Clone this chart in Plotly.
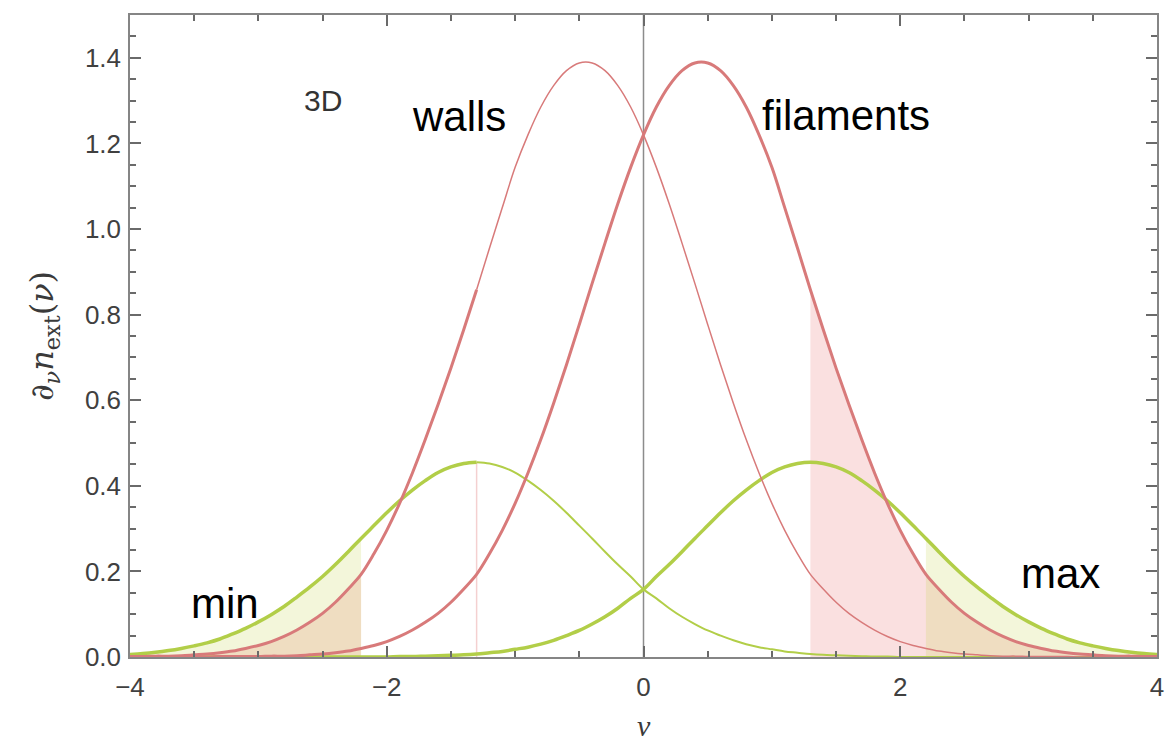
import numpy as np
import plotly.graph_objects as go

# Sampling grid of the threshold nu, step 0.1 from -4 to 4
nu = np.round(np.linspace(-4.0, 4.0, 81), 1)

walls = [
    0.001, 0.001, 0.002, 0.002, 0.003, 0.005, 0.007, 0.010, 0.014, 0.020,
    0.027, 0.036, 0.048, 0.063, 0.081, 0.102, 0.128, 0.159, 0.193, 0.241,
    0.296, 0.359, 0.430, 0.508, 0.590, 0.675, 0.765, 0.858, 0.955, 1.050,
    1.144, 1.220, 1.285, 1.335, 1.370, 1.388, 1.388, 1.370, 1.335, 1.285,
    1.220, 1.144, 1.059, 0.967, 0.873, 0.777, 0.683, 0.593, 0.508, 0.430,
    0.359, 0.296, 0.241, 0.193, 0.159, 0.128, 0.102, 0.081, 0.063, 0.048,
    0.036, 0.027, 0.020, 0.014, 0.010, 0.007, 0.005, 0.003, 0.002, 0.002,
    0.001, 0.001, 0.001, 0.001, 0.000, 0.000, 0.000, 0.000, 0.000, 0.000,
    0.000]

filaments = [
    0.000, 0.000, 0.000, 0.000, 0.000, 0.000, 0.000, 0.001, 0.001, 0.001,
    0.001, 0.002, 0.002, 0.003, 0.005, 0.007, 0.010, 0.014, 0.020, 0.027,
    0.036, 0.048, 0.063, 0.081, 0.102, 0.128, 0.159, 0.193, 0.241, 0.296,
    0.359, 0.430, 0.508, 0.593, 0.683, 0.777, 0.873, 0.967, 1.059, 1.144,
    1.220, 1.285, 1.335, 1.370, 1.388, 1.388, 1.370, 1.335, 1.285, 1.220,
    1.144, 1.050, 0.955, 0.858, 0.765, 0.675, 0.590, 0.508, 0.430, 0.359,
    0.296, 0.241, 0.193, 0.159, 0.128, 0.102, 0.081, 0.063, 0.048, 0.036,
    0.027, 0.020, 0.014, 0.010, 0.007, 0.005, 0.003, 0.002, 0.002, 0.001,
    0.001]

minima = [
    0.006, 0.008, 0.011, 0.015, 0.020, 0.026, 0.033, 0.042, 0.054, 0.067,
    0.082, 0.099, 0.118, 0.140, 0.163, 0.188, 0.216, 0.246, 0.277, 0.307,
    0.337, 0.365, 0.390, 0.412, 0.431, 0.444, 0.452, 0.455, 0.452, 0.444,
    0.431, 0.412, 0.390, 0.365, 0.337, 0.307, 0.277, 0.246, 0.216, 0.188,
    0.158, 0.137, 0.114, 0.094, 0.077, 0.062, 0.050, 0.039, 0.030, 0.023,
    0.018, 0.013, 0.010, 0.007, 0.005, 0.004, 0.003, 0.002, 0.001, 0.001,
    0.000, 0.000, 0.000, 0.000, 0.000, 0.000, 0.000, 0.000, 0.000, 0.000,
    0.000, 0.000, 0.000, 0.000, 0.000, 0.000, 0.000, 0.000, 0.000, 0.000,
    0.000]

maxima = [
    0.000, 0.000, 0.000, 0.000, 0.000, 0.000, 0.000, 0.000, 0.000, 0.000,
    0.000, 0.000, 0.000, 0.000, 0.000, 0.000, 0.000, 0.000, 0.000, 0.000,
    0.000, 0.001, 0.001, 0.002, 0.003, 0.004, 0.005, 0.007, 0.010, 0.013,
    0.018, 0.023, 0.030, 0.039, 0.050, 0.062, 0.077, 0.094, 0.114, 0.137,
    0.158, 0.188, 0.216, 0.246, 0.277, 0.307, 0.337, 0.365, 0.390, 0.412,
    0.431, 0.444, 0.452, 0.455, 0.452, 0.444, 0.431, 0.412, 0.390, 0.365,
    0.337, 0.307, 0.277, 0.246, 0.216, 0.188, 0.163, 0.140, 0.118, 0.099,
    0.082, 0.067, 0.054, 0.042, 0.033, 0.026, 0.020, 0.015, 0.011, 0.008,
    0.006]

# Thresholds bounding the shaded tails
nu_inner = 1.3
nu_outer = 2.2

x_ticks = [-4, -2, 0, 2, 4]
y_ticks = [0.0, 0.2, 0.4, 0.6, 0.8, 1.0, 1.2, 1.4]

RED = "rgb(216,122,122)"
GREEN = "rgb(178,206,72)"
PINK_FILL = "rgba(230,110,110,0.21)"
GREEN_FILL = "rgba(190,208,60,0.19)"

x = np.asarray(nu)
curves = {k: np.array(v) for k, v in
          dict(walls=walls, filaments=filaments, minima=minima, maxima=maxima).items()}

fig = go.Figure()


def add_fill(mask, y, color):
    fig.add_trace(go.Scatter(x=x[mask], y=y[mask], mode="lines", fill="tozeroy",
                             fillcolor=color, line=dict(width=0, shape="spline"),
                             hoverinfo="skip", showlegend=False))


def add_line(mask, y, color, width):
    fig.add_trace(go.Scatter(x=x[mask], y=y[mask], mode="lines",
                             line=dict(color=color, width=width, shape="spline"),
                             hoverinfo="skip", showlegend=False))


left_tail = x <= -nu_outer
right_tail = x >= nu_outer
right_pink = x >= nu_inner
everything = np.ones_like(x, dtype=bool)

# shaded tails: pink under the red curves, green under the extrema curves
add_fill(left_tail, curves["walls"], PINK_FILL)
add_fill(right_pink, curves["filaments"], PINK_FILL)
add_fill(left_tail, curves["minima"], GREEN_FILL)
add_fill(right_tail, curves["maxima"], GREEN_FILL)

# faint edge of the inner band on the walls side
edge = np.isclose(x, -nu_inner)
fig.add_trace(go.Scatter(x=[x[edge][0], x[edge][0]], y=[0, curves["minima"][edge][0]],
                         mode="lines", line=dict(color="rgba(235,170,170,0.55)", width=1.5),
                         hoverinfo="skip", showlegend=False))

# curves
add_line(x >= -nu_inner, curves["minima"], GREEN, 2.0)
add_line(x <= -nu_inner, curves["minima"], GREEN, 3.5)
add_line(everything, curves["maxima"], GREEN, 3.5)
add_line(x >= -nu_inner, curves["walls"], RED, 1.5)
add_line(x <= -nu_inner, curves["walls"], RED, 3.0)
add_line(everything, curves["filaments"], RED, 3.0)

# vertical reference line at nu = 0
fig.add_shape(type="line", xref="x", yref="paper", x0=0, x1=0, y0=0, y1=1,
              line=dict(color="#8c8c8c", width=1.5), layer="below")

tick_font = dict(family="Liberation Sans, Arial, sans-serif", size=26, color="#404040")
label_font = dict(family="Liberation Sans, Arial, sans-serif", size=42, color="#000000")
axis_common = dict(showline=True, linecolor="#858585", linewidth=1.5, mirror="allticks",
                   ticks="inside", ticklen=11, tickwidth=1.5, tickcolor="#6a6a6a",
                   showgrid=False, zeroline=False, tickfont=tick_font)

fig.update_xaxes(range=[-4, 4], tickvals=x_ticks, ticklabelstandoff=6,
                 minor=dict(dtick=0.5, ticks="inside", ticklen=6, tickwidth=1.5,
                            tickcolor="#6a6a6a", showgrid=False),
                 **axis_common)
fig.update_yaxes(range=[0, 1.5], tickvals=y_ticks, tickformat=".1f", ticklabelstandoff=2,
                 minor=dict(dtick=0.05, ticks="inside", ticklen=6, tickwidth=1.5,
                            tickcolor="#6a6a6a", showgrid=False),
                 **axis_common)

annotations = [
    dict(text="3D", x=-2.50, y=1.300, font=dict(family=label_font["family"], size=30, color="#333333")),
    dict(text="walls", x=-1.44, y=1.262, font=label_font),
    dict(text="filaments", x=1.58, y=1.265, font=label_font),
    dict(text="min", x=-3.26, y=0.124, font=label_font),
    dict(text="max", x=3.25, y=0.194, font=label_font),
]
for a in annotations:
    fig.add_annotation(xref="x", yref="y", showarrow=False, xanchor="center",
                       yanchor="middle", **a)

# axis titles
fig.add_annotation(text="∂<sub><i>ν</i></sub><i>n</i><sub>ext</sub>(<i>ν</i>)",
                   xref="paper", yref="paper", x=0, y=0.5, xshift=-86, textangle=-90,
                   showarrow=False, xanchor="center", yanchor="middle",
                   font=dict(family="DejaVu Serif, Liberation Serif, serif", size=32,
                             color="#3a3a3a"))
fig.add_annotation(text="<i>ν</i>", xref="x", yref="paper", x=0, y=0, yshift=-50,
                   showarrow=False, xanchor="center", yanchor="top",
                   font=dict(family="Liberation Serif, DejaVu Serif, serif", size=30,
                             color="#3a3a3a"))

fig.update_layout(width=1176, height=743, margin=dict(l=130, r=16, t=15, b=86),
                  plot_bgcolor="white", paper_bgcolor="white", showlegend=False)

fig.write_html("out.html")
